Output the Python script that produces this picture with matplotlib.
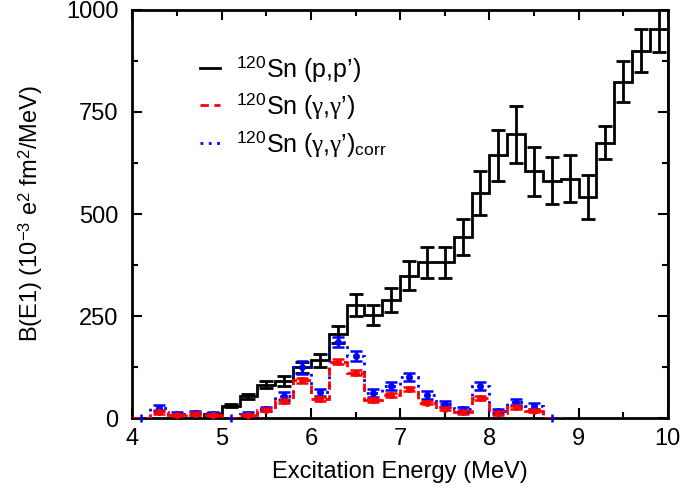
import numpy as np
import matplotlib
matplotlib.use("Agg")
import matplotlib.pyplot as plt
from matplotlib.lines import Line2D

plt.rcParams['font.family'] = ['Liberation Sans', 'DejaVu Sans']
plt.rcParams['mathtext.fontset'] = 'custom'
plt.rcParams['mathtext.rm'] = 'Liberation Sans'
plt.rcParams['mathtext.it'] = 'Liberation Serif'
plt.rcParams['mathtext.sf'] = 'Liberation Sans'

# (p,p') data, bins of 0.2 MeV, centres 4.9 ... 9.9
pp_energy = [4.9, 5.1, 5.3, 5.5, 5.7, 5.9, 6.1, 6.3, 6.5, 6.7, 6.9, 7.1, 7.3,
             7.5, 7.7, 7.9, 8.1, 8.3, 8.5, 8.7, 8.9, 9.1, 9.3, 9.5, 9.7, 9.9]
pp_be1 = [10, 30, 53, 82, 90, 124, 141, 205, 277, 252, 290, 349, 382,
          382, 443, 551, 644, 695, 605, 582, 587, 542, 675, 824, 900, 953]
pp_err = [3, 4, 6, 8, 12, 14, 15, 20, 28, 25, 29, 35, 38,
          38, 44, 54, 63, 69, 60, 58, 58, 54, 41, 50, 53, 55]

# (gamma,gamma') data, centres 4.1 ... 8.7
gg_energy = [4.1, 4.3, 4.5, 4.7, 4.9, 5.1, 5.3, 5.5, 5.7, 5.9, 6.1, 6.3, 6.5,
             6.7, 6.9, 7.1, 7.3, 7.5, 7.7, 7.9, 8.1, 8.3, 8.5, 8.7]
gg_be1 = [0, 15, 8, 11, 8, 0, 8, 20, 42, 93, 47, 138, 111,
          44, 56, 70, 38, 23, 15, 50, 12, 26, 18, 0]
gg_err = [3, 4, 3, 3, 3, 3, 3, 4, 5, 6, 5, 6, 6,
          5, 5, 5, 4, 4, 4, 5, 4, 4, 4, 3]
ggc_be1 = [0, 24, 10, 13, 10, 0, 10, 22, 54, 124, 63, 186, 152,
           61, 79, 101, 56, 34, 21, 79, 18, 39, 29, 0]
ggc_err = [9, 7, 5, 5, 5, 9, 5, 6, 10, 15, 9, 12, 12,
           10, 10, 10, 9, 8, 6, 10, 5, 8, 7, 9]

bw = 0.2
red = '#ff0000'
blue = '#0000ff'

def edges(centres):
    c = np.array(centres)
    return np.append(c - bw / 2, c[-1] + bw / 2)

fig = plt.figure(figsize=(6.85, 4.94), dpi=100)
ax = fig.add_axes([0.1934, 0.1538, 0.7816, 0.826])

ax.stairs(pp_be1, edges(pp_energy), baseline=0, color='black', lw=2)
ax.errorbar(pp_energy, pp_be1, yerr=pp_err, fmt='none', ecolor='black',
            elinewidth=2, capsize=5, capthick=2)

ax.stairs(ggc_be1, edges(gg_energy), baseline=0, color=blue, lw=2,
          ls=(0, (1, 2)), zorder=3)
ax.stairs(gg_be1, edges(gg_energy), baseline=0, color=red, lw=2,
          ls=(0, (3, 2)), zorder=3)

e = np.array(gg_energy)
g = np.array(gg_be1)
gc = np.array(ggc_be1)
nz = gc > 0
ax.errorbar(e[nz], gc[nz], yerr=np.array(ggc_err)[nz], fmt='o', color=blue,
            ms=4, elinewidth=1.8, capsize=4, capthick=1.8, zorder=4)
ax.errorbar(e[~nz], gc[~nz], yerr=np.array(ggc_err)[~nz], fmt='none',
            ecolor=blue, elinewidth=1.8, clip_on=False, zorder=4)
ax.errorbar(e[nz], g[nz], yerr=np.array(gg_err)[nz], fmt='o', color=red,
            ms=4, elinewidth=1.8, capsize=4, capthick=1.8, zorder=4)

ax.set_xlim(4, 10)
ax.set_ylim(0, 1000)
ax.set_xticks([4, 5, 6, 7, 8, 9, 10])
ax.set_xticks(np.arange(4.5, 10, 1.0), minor=True)
ax.set_yticks([0, 250, 500, 750, 1000])
ax.set_yticks([125, 375, 625, 875], minor=True)
ax.tick_params(which='both', direction='in', top=True, right=True,
               labelsize=17, width=1.5)
ax.tick_params(which='major', length=7)
ax.tick_params(which='minor', length=4)
ax.tick_params(axis='x', pad=7)
ax.tick_params(axis='y', pad=10)
for s in ax.spines.values():
    s.set_linewidth(2)

ax.set_xlabel("Excitation Energy (MeV)", fontsize=17, labelpad=8)
ax.set_ylabel("B(E1) (10$^{-3}$ e$^2$ fm$^2$/MeV)", fontsize=17, labelpad=15)

handles = [Line2D([], [], color='black', lw=2),
           Line2D([], [], color=red, lw=2, ls=(0, (3, 2))),
           Line2D([], [], color=blue, lw=2, ls=(0, (1, 2)))]
labels = ["$^{120}$Sn (p,p’)", "$^{120}$Sn ($\\gamma$,$\\gamma$’)",
          "$^{120}$Sn ($\\gamma$,$\\gamma$’)$_{\\rm corr}$"]
ax.legend(handles, labels, loc='upper left', bbox_to_anchor=(0.126, 0.893),
          frameon=False, fontsize=18, handlelength=0.8, handletextpad=0.65,
          labelspacing=0.3, borderpad=0, borderaxespad=0)

fig.savefig("out.png", dpi=100)
